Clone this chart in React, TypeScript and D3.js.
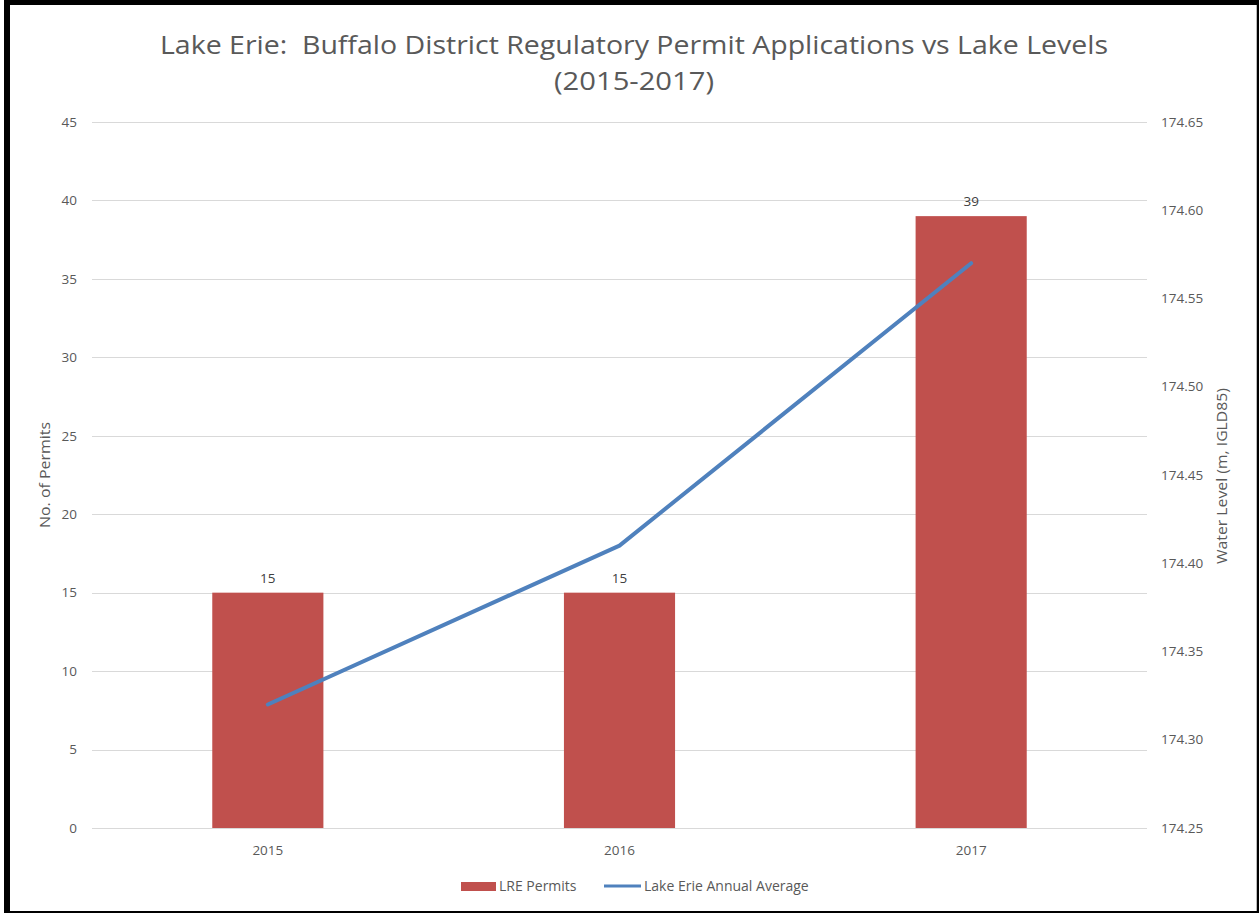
import React, { useEffect, useRef } from 'react';
import * as d3 from 'd3';

const years = ['2015', '2016', '2017'];
const permits = [15, 15, 39];
const lakeLevels = [174.32, 174.41, 174.57];
const leftTicks = [0, 5, 10, 15, 20, 25, 30, 35, 40, 45];
const rightTicks = [174.25, 174.3, 174.35, 174.4, 174.45, 174.5, 174.55, 174.6, 174.65];

const W = 1259;
const H = 913;

export default function App() {
  const svgRef = useRef<SVGSVGElement>(null);

  useEffect(() => {
    if (!svgRef.current) return;
    const svg = d3.select(svgRef.current);
    svg.selectAll('*').remove();

    const font = "'Open Sans', sans-serif";
    const textColor = '#595959';
    const plot = { left: 92, right: 1147, top: 122, bottom: 828 };

    // frame
    svg.append('rect').attr('x', 4).attr('y', 0).attr('width', W - 4).attr('height', H).attr('fill', '#000');
    svg.append('rect').attr('x', 10).attr('y', 5).attr('width', 1246).attr('height', 906).attr('fill', '#fff');
    svg.append('line').attr('x1', 1256.5).attr('x2', 1256.5).attr('y1', 5).attr('y2', 911).attr('stroke', '#bbb');

    const x = d3.scaleBand<string>()
      .domain(years)
      .range([plot.left, plot.right])
      .paddingInner(0.684)
      .paddingOuter(0.342);

    const y = d3.scaleLinear().domain([0, 45]).range([plot.bottom, plot.top]);
    const y2 = d3.scaleLinear().domain([174.25, 174.65]).range([plot.bottom, plot.top]);

    // gridlines
    svg.append('g')
      .selectAll('line')
      .data(leftTicks)
      .enter()
      .append('line')
      .attr('x1', plot.left)
      .attr('x2', plot.right)
      .attr('y1', d => Math.round(y(d)) + 0.5)
      .attr('y2', d => Math.round(y(d)) + 0.5)
      .attr('stroke', '#d9d9d9')
      .attr('stroke-width', 1);

    // left axis labels
    svg.append('g')
      .selectAll('text')
      .data(leftTicks)
      .enter()
      .append('text')
      .attr('x', 77)
      .attr('y', d => y(d))
      .attr('dy', '0.35em')
      .attr('text-anchor', 'end')
      .attr('font-family', font)
      .attr('font-size', 13.5)
      .attr('fill', textColor)
      .text(d => String(d));

    // right axis labels
    svg.append('g')
      .selectAll('text')
      .data(rightTicks)
      .enter()
      .append('text')
      .attr('x', 1161)
      .attr('y', d => y2(d))
      .attr('dy', '0.35em')
      .attr('font-family', font)
      .attr('font-size', 13.5)
      .attr('fill', textColor)
      .text(d => d.toFixed(2));

    // bars
    svg.append('g')
      .selectAll('rect')
      .data(permits)
      .enter()
      .append('rect')
      .attr('x', (d, i) => x(years[i]) || 0)
      .attr('y', d => y(d))
      .attr('width', x.bandwidth())
      .attr('height', d => y(0) - y(d))
      .attr('fill', '#c0504d');

    // bar labels
    svg.append('g')
      .selectAll('text')
      .data(permits)
      .enter()
      .append('text')
      .attr('x', (d, i) => (x(years[i]) || 0) + x.bandwidth() / 2)
      .attr('y', d => y(d) - 10)
      .attr('text-anchor', 'middle')
      .attr('font-family', font)
      .attr('font-size', 13.5)
      .attr('fill', '#404040')
      .text(d => String(d));

    // line
    const line = d3.line<number>()
      .x((d, i) => (x(years[i]) || 0) + x.bandwidth() / 2)
      .y(d => y2(d));
    svg.append('path')
      .datum(lakeLevels)
      .attr('d', line)
      .attr('fill', 'none')
      .attr('stroke', '#4f81bd')
      .attr('stroke-width', 4)
      .attr('stroke-linecap', 'round')
      .attr('stroke-linejoin', 'round');

    // x labels
    svg.append('g')
      .selectAll('text')
      .data(years)
      .enter()
      .append('text')
      .attr('x', d => (x(d) || 0) + x.bandwidth() / 2)
      .attr('y', 850)
      .attr('dy', '0.35em')
      .attr('text-anchor', 'middle')
      .attr('font-family', font)
      .attr('font-size', 13.5)
      .attr('fill', textColor)
      .text(d => d);

    // title
    svg.append('text')
      .attr('x', 634)
      .attr('y', 54)
      .attr('text-anchor', 'middle')
      .attr('font-family', font)
      .attr('font-size', 25)
      .attr('fill', textColor)
      .attr('textLength', 948)
      .attr('lengthAdjust', 'spacingAndGlyphs')
      .style('white-space', 'pre')
      .text('Lake Erie:  Buffalo District Regulatory Permit Applications vs Lake Levels');
    svg.append('text')
      .attr('x', 634)
      .attr('y', 90)
      .attr('text-anchor', 'middle')
      .attr('font-family', font)
      .attr('font-size', 25)
      .attr('fill', textColor)
      .attr('textLength', 160)
      .attr('lengthAdjust', 'spacingAndGlyphs')
      .text('(2015-2017)');

    // axis titles
    svg.append('text')
      .attr('transform', 'translate(50,475) rotate(-90)')
      .attr('text-anchor', 'middle')
      .attr('font-family', font)
      .attr('font-size', 14)
      .attr('fill', textColor)
      .attr('textLength', 106)
      .attr('lengthAdjust', 'spacingAndGlyphs')
      .text('No. of Permits');
    svg.append('text')
      .attr('transform', 'translate(1222,476) rotate(-90)')
      .attr('text-anchor', 'middle')
      .attr('dy', '0.35em')
      .attr('font-family', font)
      .attr('font-size', 14)
      .attr('fill', textColor)
      .attr('textLength', 176)
      .attr('lengthAdjust', 'spacingAndGlyphs')
      .text('Water Level (m, IGLD85)');

    // legend
    const lg = svg.append('g');
    lg.append('rect').attr('x', 461).attr('y', 882).attr('width', 35).attr('height', 9).attr('fill', '#c0504d');
    lg.append('text')
      .attr('x', 499).attr('y', 886).attr('dy', '0.35em')
      .attr('font-family', font).attr('font-size', 14).attr('fill', textColor)
      .text('LRE Permits');
    lg.append('line')
      .attr('x1', 604).attr('x2', 641).attr('y1', 886).attr('y2', 886)
      .attr('stroke', '#4f81bd').attr('stroke-width', 3);
    lg.append('text')
      .attr('x', 644).attr('y', 886).attr('dy', '0.35em')
      .attr('font-family', font).attr('font-size', 14).attr('fill', textColor)
      .text('Lake Erie Annual Average');
  }, []);

  return (
    <svg
      ref={svgRef}
      width={W}
      height={H}
      style={{ position: 'absolute', left: 0, top: 0, display: 'block' }}
    />
  );
}
